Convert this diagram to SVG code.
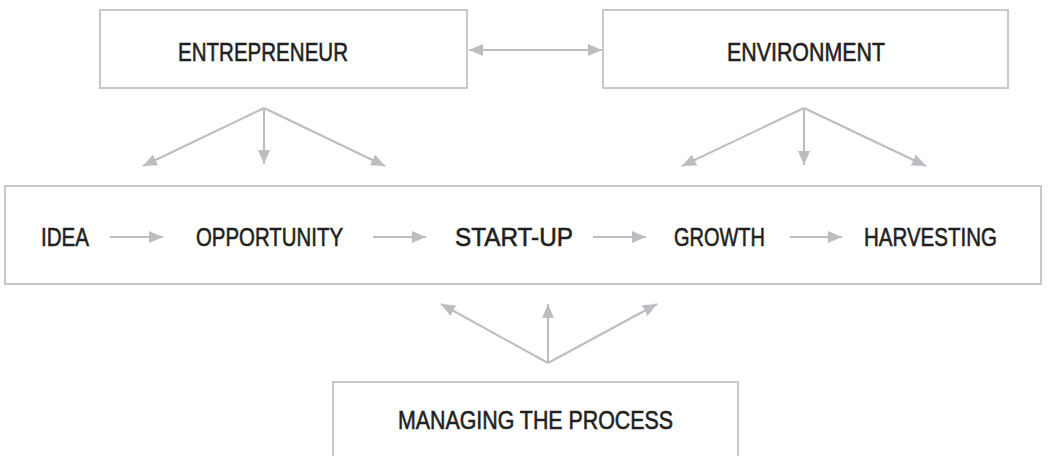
<svg xmlns="http://www.w3.org/2000/svg" width="1064" height="456" viewBox="0 0 1064 456">
<style>
.box{fill:#fff;stroke:#c8c8ca;stroke-width:2}
.lbl{font-family:"Liberation Sans",Arial,sans-serif;font-size:26.5px;fill:#231f20;stroke:#231f20;stroke-width:0.6}
.con{stroke:#bcbdc0;stroke-width:2;fill:none;marker-end:url(#ah)}
</style>
<defs>
<marker id="ah" markerUnits="userSpaceOnUse" markerWidth="15" markerHeight="13" refX="14" refY="6" orient="auto-start-reverse" viewBox="0 0 15 13">
<path d="M0,0 L14,6 L0,12 z" fill="#bcbdc0"/>
</marker>
</defs>
<rect width="1064" height="456" fill="#fff"/>
<g id="entrepreneur"><rect class="box" x="100" y="10" width="367" height="78"/><text class="lbl" x="178" y="61" textLength="170" lengthAdjust="spacingAndGlyphs">ENTREPRENEUR</text></g>
<g id="environment"><rect class="box" x="603" y="10" width="405" height="78"/><text class="lbl" x="727" y="61" textLength="158" lengthAdjust="spacingAndGlyphs">ENVIRONMENT</text></g>
<g id="process"><rect class="box" x="5" y="186" width="1036" height="98"/>
<text class="lbl" x="41" y="246" textLength="48" lengthAdjust="spacingAndGlyphs">IDEA</text>
<text class="lbl" x="196" y="246" textLength="147" lengthAdjust="spacingAndGlyphs">OPPORTUNITY</text>
<text class="lbl" x="455" y="246" textLength="118" lengthAdjust="spacingAndGlyphs">START-UP</text>
<text class="lbl" x="674" y="246" textLength="91" lengthAdjust="spacingAndGlyphs">GROWTH</text>
<text class="lbl" x="864" y="246" textLength="133" lengthAdjust="spacingAndGlyphs">HARVESTING</text>
</g>
<g id="managing"><rect class="box" x="333" y="382" width="405" height="90"/><text class="lbl" x="398" y="429" textLength="275" lengthAdjust="spacingAndGlyphs">MANAGING THE PROCESS</text></g>
<g id="connectors">
<line class="con" x1="469" y1="50" x2="602" y2="50" marker-start="url(#ah)"/>
<line class="con" x1="264" y1="108" x2="143" y2="166"/>
<line class="con" x1="264" y1="108" x2="264" y2="164"/>
<line class="con" x1="264" y1="108" x2="385" y2="166"/>
<line class="con" x1="804" y1="108" x2="682" y2="166"/>
<line class="con" x1="804" y1="108" x2="804" y2="165"/>
<line class="con" x1="804" y1="108" x2="926" y2="166"/>
<line class="con" x1="548" y1="363" x2="441" y2="304"/>
<line class="con" x1="548" y1="363" x2="548" y2="304"/>
<line class="con" x1="548" y1="363" x2="657" y2="304"/>
<line class="con" x1="110" y1="237" x2="163" y2="237"/>
<line class="con" x1="373" y1="237" x2="426" y2="237"/>
<line class="con" x1="593" y1="237" x2="646" y2="237"/>
<line class="con" x1="790" y1="237" x2="842" y2="237"/>
</g>
</svg>
